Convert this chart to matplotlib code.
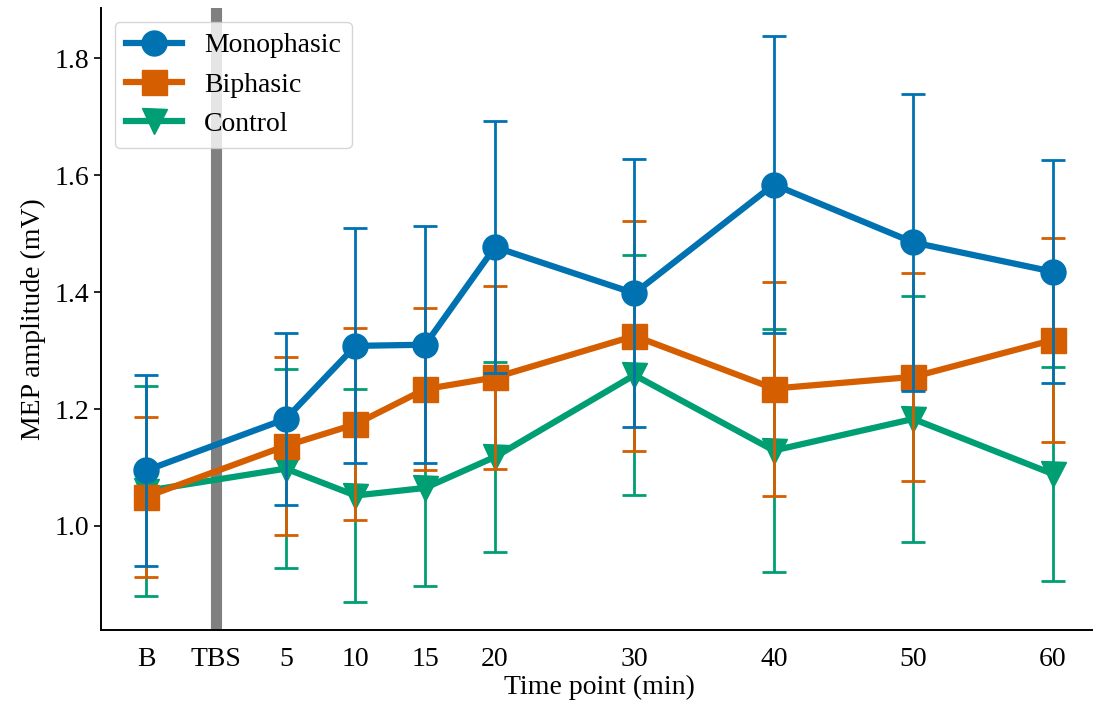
import matplotlib
matplotlib.use('Agg')
import matplotlib.pyplot as plt

# time points (B = baseline, TBS = stimulation)
time_pos = [-5, 5, 10, 15, 20, 30, 40, 50, 60]
tick_pos = [-5, 0, 5, 10, 15, 20, 30, 40, 50, 60]
tick_labels = ['B', 'TBS', '5', '10', '15', '20', '30', '40', '50', '60']

# mean MEP amplitude (mV) and error
mono_mean = [1.095, 1.183, 1.308, 1.310, 1.477, 1.398, 1.584, 1.485, 1.435]
mono_err = [0.163, 0.147, 0.201, 0.203, 0.215, 0.229, 0.254, 0.254, 0.191]
bi_mean = [1.050, 1.137, 1.174, 1.234, 1.254, 1.325, 1.235, 1.255, 1.318]
bi_err = [0.137, 0.152, 0.164, 0.138, 0.157, 0.196, 0.183, 0.178, 0.174]
ctrl_mean = [1.060, 1.098, 1.052, 1.065, 1.118, 1.258, 1.129, 1.183, 1.089]
ctrl_err = [0.180, 0.170, 0.182, 0.167, 0.162, 0.205, 0.208, 0.210, 0.183]

plt.rcParams['font.family'] = ['Liberation Serif', 'DejaVu Serif']
plt.rcParams['font.size'] = 20

fig = plt.figure(figsize=(10.93, 7.11), dpi=100)
ax = fig.add_axes([0.0924, 0.114, 0.9122, 0.8747])

# TBS marker line
ax.axvline(0, color='grey', linewidth=8, zorder=1)

style = dict(linewidth=4.5, markersize=18, elinewidth=2, capsize=8.5, capthick=2)
ctrl = ax.errorbar(time_pos, ctrl_mean, yerr=ctrl_err, color='#009E73', marker='v',
                   label='Control', zorder=2, **style)
bi = ax.errorbar(time_pos, bi_mean, yerr=bi_err, color='#D55E00', marker='s',
                 label='Biphasic', zorder=3, **style)
mono = ax.errorbar(time_pos, mono_mean, yerr=mono_err, color='#0072B2', marker='o',
                   label='Monophasic', zorder=4, **style)

ax.set_xlim(-8.25, 63.25)
ax.set_ylim(0.822, 1.886)
ax.set_xticks(tick_pos)
ax.set_xticklabels(tick_labels)
ax.tick_params(axis='x', length=0, pad=12)
ax.tick_params(axis='y', length=5, width=1.2)
ax.spines['top'].set_visible(False)
ax.spines['right'].set_visible(False)
ax.spines['left'].set_linewidth(1.4)
ax.spines['bottom'].set_linewidth(1.4)

ax.set_xlabel('Time point (min)', labelpad=2)
ax.set_ylabel('MEP amplitude (mV)', labelpad=6)

# legend with line+marker only (no error bars)
leg = ax.legend([mono[0], bi[0], ctrl[0]], ['Monophasic', 'Biphasic', 'Control'],
                loc='upper left')
leg.set_zorder(10)

fig.savefig('out.png', dpi=100)
